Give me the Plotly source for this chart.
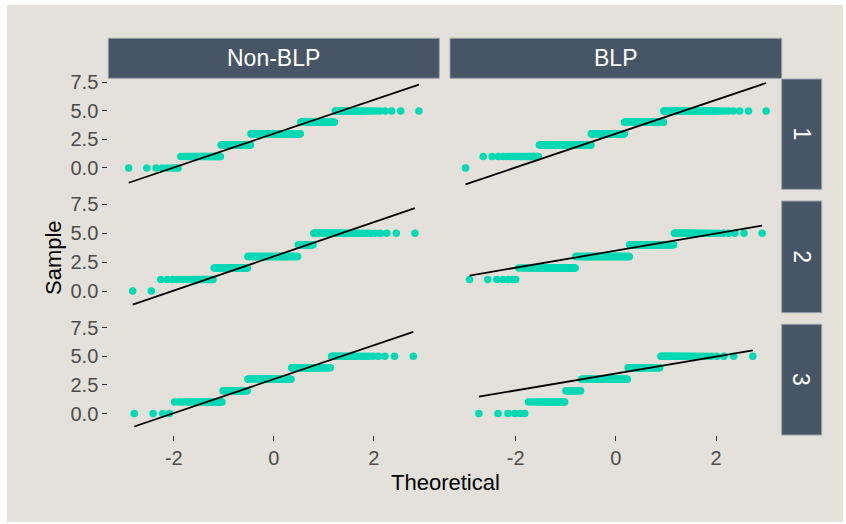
import numpy as np
import plotly.graph_objects as go
from statistics import NormalDist

# ---- data (sample value levels and their counts per facet) ----
levels = [0, 1, 2, 3, 4, 5]
col_labels = ["Non-BLP", "BLP"]
row_labels = ["1", "2", "3"]

counts_nonblp_1 = [8, 31, 48, 103, 50, 30]
counts_blp_1 = [1, 22, 92, 95, 97, 63]
counts_nonblp_2 = [2, 22, 39, 81, 21, 45]
counts_blp_2 = [0, 7, 53, 113, 77, 35]
counts_nonblp_3 = [4, 25, 28, 64, 45, 24]
counts_blp_3 = [6, 19, 14, 56, 35, 30]

x_tickvals = [-2, 0, 2]
x_ticktext = ["-2", "0", "2"]
y_tickvals = [0, 2.5, 5, 7.5]
y_ticktext = ["0.0", "2.5", "5.0", "7.5"]

panel_counts = [
    [counts_nonblp_1, counts_blp_1],
    [counts_nonblp_2, counts_blp_2],
    [counts_nonblp_3, counts_blp_3],
]

# ---- styling ----
W, H = 846, 524
BG = "#E3E1D9"
STRIP = "#475666"
PT = "#02D9B5"
FONT = "Liberation Sans, Arial, sans-serif"

col_px = [(108.3, 439.3), (450.0, 781.7)]
row_px = [(79.0, 189.3), (201.0, 312.7), (324.3, 435.0)]
x_range = [-3.31, 3.31]
y_range = [-1.88, 7.8]


def fx(px):
    return px / W


def fy(py):
    return 1 - py / H


nd = NormalDist()


def qq(counts):
    sample = np.repeat(levels, counts).astype(float)
    n = len(sample)
    theo = np.array([nd.inv_cdf((i + 0.5) / n) for i in range(n)])
    q = np.quantile(sample, [0.25, 0.75])
    t = [nd.inv_cdf(0.25), nd.inv_cdf(0.75)]
    slope = (q[1] - q[0]) / (t[1] - t[0])
    icpt = q[0] - slope * t[0]
    xl = np.array([theo.min(), theo.max()])
    return theo, sample, xl, icpt + slope * xl


fig = go.Figure()
layout = dict(
    width=W, height=H,
    margin=dict(l=0, r=0, t=0, b=0, pad=0),
    paper_bgcolor="white",
    plot_bgcolor=BG,
    showlegend=False,
    font=dict(family=FONT),
)

shapes = [dict(type="rect", xref="paper", yref="paper",
               x0=fx(7), x1=fx(843), y0=fy(522), y1=fy(5),
               fillcolor=BG, line=dict(width=0), layer="below")]
annotations = []

for r in range(3):
    for c in range(2):
        k = r * 2 + c + 1
        xs = "" if k == 1 else str(k)
        theo, sample, xl, yl = qq(panel_counts[r][c])
        fig.add_trace(go.Scatter(
            x=theo, y=sample, mode="markers",
            marker=dict(color=PT, size=7.5, line=dict(width=0)),
            xaxis="x" + xs, yaxis="y" + xs, hoverinfo="skip"))
        fig.add_trace(go.Scatter(
            x=xl, y=yl, mode="lines",
            line=dict(color="black", width=1.8),
            xaxis="x" + xs, yaxis="y" + xs, hoverinfo="skip"))
        show_x = (r == 2)
        show_y = (c == 0)
        layout["xaxis" + xs] = dict(
            domain=[fx(col_px[c][0]), fx(col_px[c][1])],
            anchor="y" + xs, range=x_range, automargin=False,
            showgrid=False, zeroline=False, showline=False,
            tickvals=x_tickvals, ticktext=x_ticktext,
            ticks="outside" if show_x else "", ticklen=5, tickwidth=1.3,
            tickcolor="#333333", showticklabels=show_x,
            tickfont=dict(size=20, color="#4D4D4D", family=FONT),
        )
        layout["yaxis" + xs] = dict(
            domain=[fy(row_px[r][1]), fy(row_px[r][0])],
            anchor="x" + xs, range=y_range, automargin=False,
            showgrid=False, zeroline=False, showline=False,
            tickvals=y_tickvals, ticktext=y_ticktext,
            ticks="outside" if show_y else "", ticklen=5, tickwidth=1.3,
            tickcolor="#333333", showticklabels=show_y,
            tickfont=dict(size=20, color="#4D4D4D", family=FONT),
        )

# top strips
for c in range(2):
    x0, x1 = col_px[c]
    shapes.append(dict(type="rect", xref="paper", yref="paper",
                       x0=fx(x0), x1=fx(x1), y0=fy(78.3), y1=fy(38.3),
                       fillcolor=STRIP, line=dict(color="#9AA2AA", width=1)))
    annotations.append(dict(text=col_labels[c], xref="paper", yref="paper",
                            x=fx((x0 + x1) / 2), y=fy(58.3), showarrow=False,
                            xanchor="center", yanchor="middle",
                            font=dict(size=23, color="white", family=FONT)))

# right strips
for r in range(3):
    y0, y1 = row_px[r]
    shapes.append(dict(type="rect", xref="paper", yref="paper",
                       x0=fx(781.7), x1=fx(821.7), y0=fy(y1), y1=fy(y0),
                       fillcolor=STRIP, line=dict(color="#9AA2AA", width=1)))
    annotations.append(dict(text=row_labels[r], xref="paper", yref="paper",
                            x=fx(801.7), y=fy((y0 + y1) / 2), showarrow=False,
                            textangle=90, xanchor="center", yanchor="middle",
                            font=dict(size=23, color="white", family=FONT)))

# axis titles
annotations.append(dict(text="Theoretical", xref="paper", yref="paper",
                        x=fx(445), y=fy(482), showarrow=False,
                        xanchor="center", yanchor="middle",
                        font=dict(size=22, color="black", family=FONT)))
annotations.append(dict(text="Sample", xref="paper", yref="paper",
                        x=fx(53), y=fy(257), showarrow=False, textangle=-90,
                        xanchor="center", yanchor="middle",
                        font=dict(size=22, color="black", family=FONT)))

layout["shapes"] = shapes
layout["annotations"] = annotations
fig.update_layout(**layout)
fig.write_html("out.html")
